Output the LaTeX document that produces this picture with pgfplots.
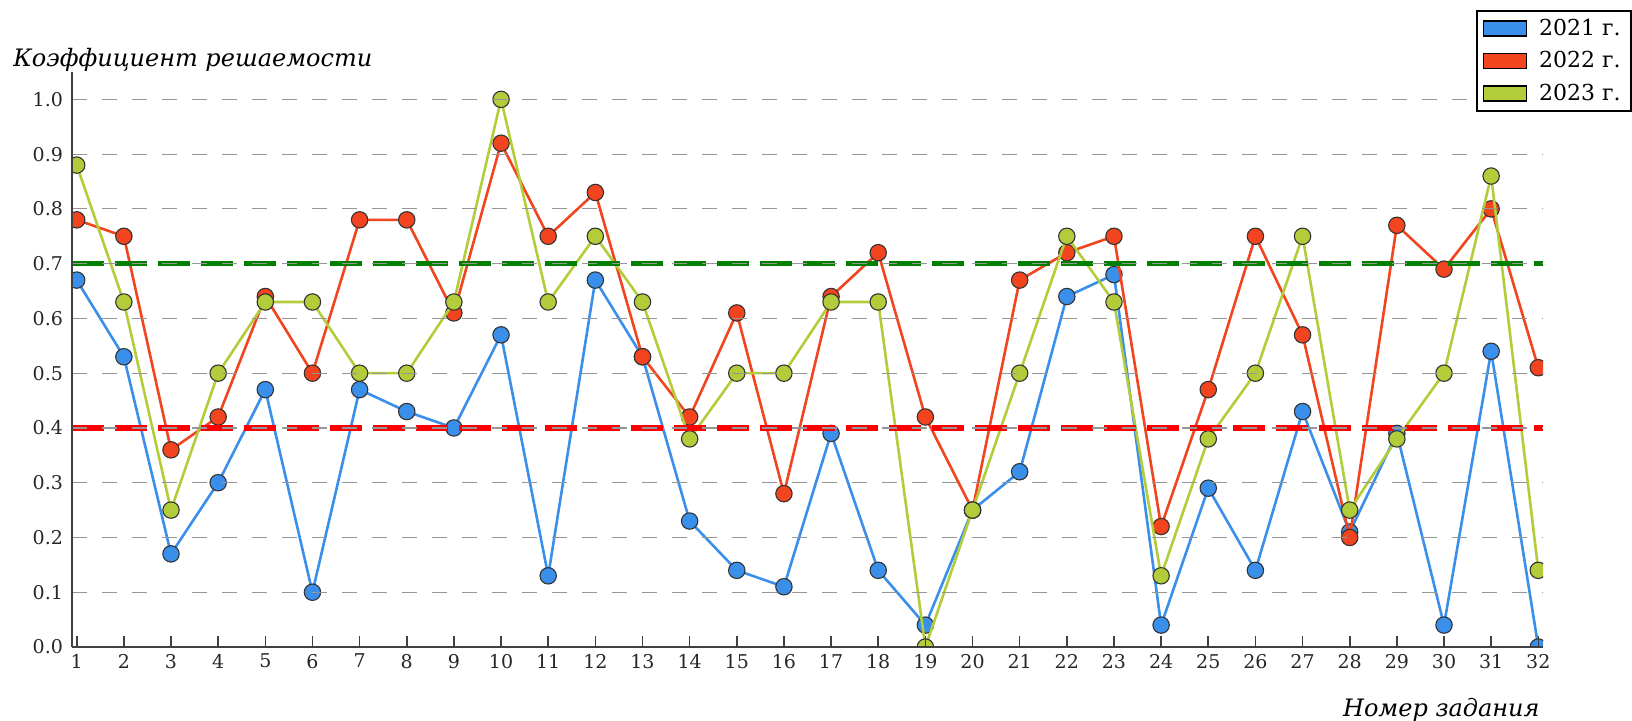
\documentclass[border=0pt]{standalone}
\usepackage{fontspec}
\setmainfont{DejaVu Serif}
\usepackage{pgfplots}
\pgfplotsset{compat=1.18}
\usepackage{pgfplotstable}
\definecolor{cblue}{RGB}{58,143,234}
\definecolor{cred}{RGB}{242,68,30}
\definecolor{cgreen}{RGB}{178,204,58}
\definecolor{gridgray}{RGB}{150,150,150}
\definecolor{refgreen}{RGB}{0,128,0}
\definecolor{refred}{RGB}{255,0,0}
\pgfplotstableread{
x y2021 y2022 y2023
1 0.67 0.78 0.88
2 0.53 0.75 0.63
3 0.17 0.36 0.25
4 0.30 0.42 0.50
5 0.47 0.64 0.63
6 0.10 0.50 0.63
7 0.47 0.78 0.50
8 0.43 0.78 0.50
9 0.40 0.61 0.63
10 0.57 0.92 1.00
11 0.13 0.75 0.63
12 0.67 0.83 0.75
13 0.53 0.53 0.63
14 0.23 0.42 0.38
15 0.14 0.61 0.50
16 0.11 0.28 0.50
17 0.39 0.64 0.63
18 0.14 0.72 0.63
19 0.04 0.42 0.00
20 0.25 0.25 0.25
21 0.32 0.67 0.50
22 0.64 0.72 0.75
23 0.68 0.75 0.63
24 0.04 0.22 0.13
25 0.29 0.47 0.38
26 0.14 0.75 0.50
27 0.43 0.57 0.75
28 0.21 0.20 0.25
29 0.39 0.77 0.38
30 0.04 0.69 0.50
31 0.54 0.80 0.86
32 0.00 0.51 0.14
}\datatable
\pgfplotstableread{
x y
0.9 0.7
32.1 0.7
}\refgreen
\pgfplotstableread{
x y
0.9 0.4
32.1 0.4
}\refred
\begin{document}
\begin{tikzpicture}
\begin{axis}[
  scale only axis,
  width=735.5pt, height=287.5pt,
  xmin=0.9, xmax=32.1, ymin=0, ymax=1.05,
  axis on top,
  axis x line*=bottom, axis y line*=left,
  axis line style={-, draw=black!75, line width=0.9pt},
  xtick={1,...,32},
  ytick={0,0.1,0.2,0.3,0.4,0.5,0.6,0.7,0.8,0.9,1.0},
  yticklabel style={/pgf/number format/fixed, /pgf/number format/precision=1, /pgf/number format/fixed zerofill},
  /pgf/number format/assume math mode=true,
  ticklabel style={font=\fontsize{9.5}{11}\selectfont, text=black!85},
  xtick align=inside,
  x tick style={draw=black!75, line width=0.8pt},
  xtick pos=bottom,
  major tick length=5.5pt,
  y tick style={draw=none},
  ytick pos=left,
  yticklabel shift=1pt,
  ymajorgrids,
  major grid style={gridgray, line width=0.6pt, dash pattern=on 7.5pt off 7.5pt},
  ylabel={Коэффициент решаемости},
  every axis y label/.style={at={(rel axis cs:0,1)}, anchor=base west, inner sep=0pt, xshift=-29.5pt, yshift=2.5pt, font=\itshape\fontsize{12}{14}\selectfont},
  xlabel={Номер задания},
  every axis x label/.style={at={(rel axis cs:1,0)}, anchor=base east, inner sep=0pt, xshift=-1.5pt, yshift=-35pt, font=\itshape\fontsize{12}{14}\selectfont},
  clip marker paths=true,
  legend style={at={(rel axis cs:1,1)}, anchor=north east, xshift=44.3pt, yshift=31pt,
    draw=black, line width=0.9pt, font=\fontsize{11}{13}\selectfont,
    row sep=2.6pt, inner xsep=3pt, inner ysep=2pt,
    /tikz/every even column/.append style={column sep=0pt}},
  legend cell align=left,
]
\addplot[draw=cblue, line width=1.3pt, mark=*, mark size=4.1pt, mark options={fill=cblue, draw=black!80, line width=0.55pt},
  legend image code/.code={\draw[fill=cblue, draw=black, line width=0.8pt] (0pt,-3.75pt) rectangle (21.5pt,3.75pt);}]
  table[x=x, y=y2021] {\datatable};
\addlegendentry{\hspace{4pt}2021 г.}
\addplot[draw=cred, line width=1.3pt, mark=*, mark size=4.1pt, mark options={fill=cred, draw=black!80, line width=0.55pt},
  legend image code/.code={\draw[fill=cred, draw=black, line width=0.8pt] (0pt,-3.75pt) rectangle (21.5pt,3.75pt);}]
  table[x=x, y=y2022] {\datatable};
\addlegendentry{\hspace{4pt}2022 г.}
\addplot[draw=cgreen, line width=1.3pt, mark=*, mark size=4.1pt, mark options={fill=cgreen, draw=black!80, line width=0.55pt},
  legend image code/.code={\draw[fill=cgreen, draw=black, line width=0.8pt] (0pt,-3.75pt) rectangle (21.5pt,3.75pt);}]
  table[x=x, y=y2023] {\datatable};
\addlegendentry{\hspace{4pt}2023 г.}
\addplot[forget plot, draw=refgreen, line width=2.6pt, dash pattern=on 16pt off 5.5pt] table {\refgreen};
\addplot[forget plot, draw=refred, line width=2.6pt, dash pattern=on 16pt off 5.5pt] table {\refred};
\end{axis}
\pgfresetboundingbox
\path[use as bounding box] ([xshift=-36pt,yshift=-37pt]current axis.south west) rectangle ([xshift=44.5pt,yshift=36pt]current axis.north east);
\end{tikzpicture}
\end{document}
